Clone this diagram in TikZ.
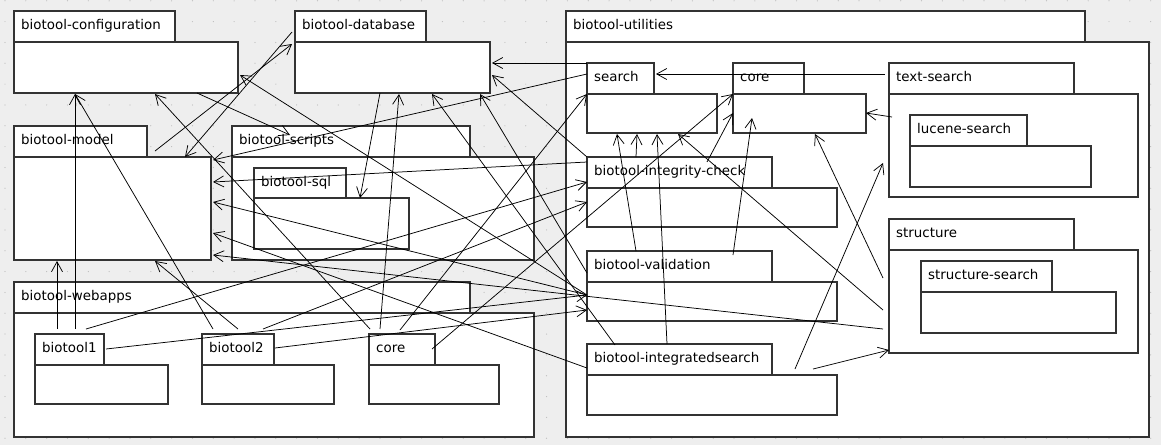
\documentclass[tikz,border=0pt]{standalone}
\usepackage{fontspec}
\setmainfont{DejaVu Sans}
\usetikzlibrary{arrows.meta,calc,shadows}
\definecolor{bg}{HTML}{EEEEEE}
\definecolor{bd}{HTML}{333333}
\definecolor{dotc}{HTML}{BDBDBD}
\tikzset{
  pkg/.style={draw=bd, line width=1.3pt, fill=white, anchor=north west, inner sep=0pt, outer sep=0pt,
    drop shadow={shadow xshift=1.3pt, shadow yshift=-1.3pt, opacity=.3}},
  lbl/.style={anchor=base west, inner sep=0pt, font=\fontsize{13.4}{15}\selectfont},
  dep/.style={draw=black, line width=0.75pt, -{Straight Barb[length=10pt,width=11pt,line width=0.75pt]}},
}
\newcommand\pk[6]{\node[pkg, minimum width=#4pt, minimum height=#5pt] (#1) at (#2,#3) {};}
\newcommand\pkt[6]{\pk{#1T}{#2}{#3}{#4}{31}{}\node[lbl] at ([shift={(7,18.5)}]#1T.north west) {#6};}
\begin{document}
\begin{tikzpicture}[x=1pt,y=-1pt]
\fill[bg] (0,0) rectangle (1161,445);
\useasboundingbox (0,0) rectangle (1161,445);
\foreach \i in {0,...,55} \foreach \j in {0,...,21}
  \fill[dotc] (5+\i*20.83,0.8+\j*20.83) circle (0.6pt);
% left packages
\pkt{cfg}{14}{11}{161}{31}{biotool-configuration}
\pk{cfg}{14}{42}{224}{51}{}
\pkt{db}{295}{11}{131}{31}{biotool-database}
\pk{db}{295}{42}{195}{51}{}
\pkt{mod}{14}{126}{133}{31}{biotool-model}
\pk{mod}{14}{157}{197}{103}{}
\pkt{scr}{232}{126}{238}{31}{biotool-scripts}
\pk{scr}{232}{157}{302}{103}{}
\pkt{sql}{254}{168}{92}{30}{biotool-sql}
\pk{sql}{254}{198}{155}{51}{}
\pkt{web}{14}{282}{456}{31}{biotool-webapps}
\pk{web}{14}{313}{520}{124}{}
\pkt{bA}{35}{334}{69}{31}{biotool1}
\pk{bA}{35}{365}{133}{39}{}
\pkt{bB}{202}{334}{72}{31}{biotool2}
\pk{bB}{202}{365}{132}{39}{}
\pkt{wc}{369}{334}{66}{31}{core}
\pk{wc}{369}{365}{130}{39}{}
% utilities
\pkt{util}{566}{11}{519}{31}{biotool-utilities}
\pk{util}{566}{42}{583}{395}{}
\pkt{srch}{587}{63}{67}{31}{search}
\pk{srch}{587}{94}{130}{39}{}
\pkt{uc}{733}{63}{71}{31}{core}
\pk{uc}{733}{94}{133}{39}{}
\pkt{ts}{889}{63}{185}{31}{text-search}
\pk{ts}{889}{94}{249}{103}{}
\pkt{luc}{910}{115}{117}{31}{lucene-search}
\pk{luc}{910}{146}{181}{41}{}
\pkt{ic}{587}{157}{185}{31}{biotool-integrity-check}
\pk{ic}{587}{188}{250}{39}{}
\pkt{val}{587}{251}{185}{31}{biotool-validation}
\pk{val}{587}{282}{250}{39}{}
\pkt{is}{587}{344}{185}{31}{biotool-integratedsearch}
\pk{is}{587}{375}{250}{40}{}
\pkt{st}{889}{219}{185}{31}{structure}
\pk{st}{889}{250}{249}{103}{}
\pkt{ss}{921}{261}{131}{31}{structure-search}
\pk{ss}{921}{292}{195}{41}{}
% dependencies
\path[dep] ([shift={(22,-5)}]bAT.north west) -- ([shift={(43,104)}]mod.north west);
\path[dep] ([shift={(40,-5)}]bAT.north west) -- ([shift={(61,52)}]cfg.north west);
\path[dep] ([shift={(51,-5)}]bAT.north west) -- ([shift={(0,25)}]icT.north west);
\path[dep] ([shift={(71,15)}]bAT.north west) -- ([shift={(0,13)}]val.north west);
\path[dep] ([shift={(11,-5)}]bBT.north west) -- ([shift={(61,52)}]cfg.north west);
\path[dep] ([shift={(36,-5)}]bBT.north west) -- ([shift={(141,104)}]mod.north west);
\path[dep] ([shift={(61,-5)}]bBT.north west) -- ([shift={(0,14)}]ic.north west);
\path[dep] ([shift={(73,14)}]bBT.north west) -- ([shift={(0,28)}]val.north west);
\path[dep] ([shift={(1,-5)}]wcT.north west) -- ([shift={(141,52)}]cfg.north west);
\path[dep] ([shift={(11,-5)}]wcT.north west) -- ([shift={(104,52)}]db.north west);
\path[dep] ([shift={(31,-4)}]wcT.north west) -- (srch.north west);
\path[dep] ([shift={(63,15)}]wcT.north west) -- (uc.north west);
\path[dep] ([shift={(141,25)}]modT.north west) -- ([shift={(-3,2)}]db.north west);
\path[dep] ([shift={(-3,21)}]dbT.north west) -- ([shift={(171,0)}]mod.north west);
\path[dep] ([shift={(0,11)}]srchT.north west) -- ([shift={(199,3)}]mod.north west);
\path[dep] (srchT.north west) -- ([shift={(197,21)}]db.north west);
\path[dep] (icT.north west) -- ([shift={(197,33)}]db.north west);
\path[dep] ([shift={(0,5)}]icT.north west) -- ([shift={(199,25)}]mod.north west);
\path[dep] ([shift={(-4,11)}]tsT.north west) -- ([shift={(69,11)}]srchT.north west);
\path[dep] ([shift={(3,23)}]ts.north west) -- ([shift={(133,19)}]uc.north west);
\path[dep] ([shift={(49,0)}]icT.north west) -- ([shift={(50,40)}]srch.north west);
\path[dep] ([shift={(49,0)}]valT.north west) -- ([shift={(30,40)}]srch.north west);
\path[dep] ([shift={(80,0)}]isT.north west) -- ([shift={(70,40)}]srch.north west);
\path[dep] ([shift={(-6,60)}]st.north west) -- ([shift={(91,40)}]srch.north west);
\path[dep] ([shift={(120,5)}]icT.north west) -- ([shift={(0,19)}]uc.north west);
\path[dep] ([shift={(146,4)}]valT.north west) -- ([shift={(19,24)}]uc.north west);
\path[dep] ([shift={(-6,28)}]st.north west) -- ([shift={(82,40)}]uc.north west);
\path[dep] ([shift={(208,25)}]isT.north west) -- ([shift={(-6,69)}]ts.north west);
\path[dep] ([shift={(226,25)}]isT.north west) -- ([shift={(0,100)}]st.north west);
\path[dep] ([shift={(0,24)}]isT.north west) -- ([shift={(199,76)}]mod.north west);
\path[dep] ([shift={(-6,79)}]st.north west) -- ([shift={(199,98)}]mod.north west);
\path[dep] ([shift={(0,13)}]val.north west) -- ([shift={(199,45)}]mod.north west);
\path[dep] ([shift={(85,51)}]db.north west) -- ([shift={(106,0)}]sql.north west);
\path[dep] ([shift={(0,13)}]val.north west) -- ([shift={(226,33)}]cfg.north west);
\path[dep] ([shift={(183,51)}]cfg.north west) -- ([shift={(58,9)}]scrT.north west);
\path[dep] ([shift={(28,1)}]isT.north west) -- ([shift={(137,52)}]db.north west);
\path[dep] ([shift={(0,22)}]valT.north west) -- ([shift={(185,52)}]db.north west);
\end{tikzpicture}
\end{document}
